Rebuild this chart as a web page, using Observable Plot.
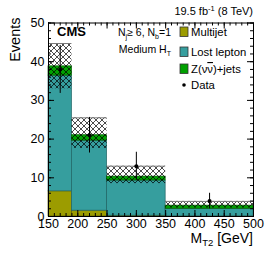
<!DOCTYPE html>
<html><head><meta charset="utf-8">
<script src="https://cdn.jsdelivr.net/npm/d3@7"></script>
<script src="https://cdn.jsdelivr.net/npm/@observablehq/plot@0.6"></script>
<style>
body{margin:0;background:#fff}
svg{font-family:"Liberation Sans",Arial,Helvetica,sans-serif;background:#fff}
</style>
</head><body><div id="chart"></div>
<script>
// ---- data ----
const binLo = [150, 190, 250, 350];
const binHi = [190, 250, 350, 500];
const multijet = [6.5, 1.5, 0.2, 0.05];
const lostLepton = [29.9, 18.1, 9.1, 1.95];
const zinv = [2.4, 1.4, 1.0, 0.8];
const bandLo = [33.0, 17.6, 8.5, 2.2];
const bandHi = [44.7, 25.5, 13.0, 3.9];
const dataVals = [38, 21, 13, 4];
const dataErr = [6.2, 4.6, 3.6, 2.0];
const seriesNames = ["Multijet", "Lost lepton", "Z(νν̄)+jets"];
const seriesColors = ["#9c9c00", "#369e9e", "#00a000"];
const seriesStroke = ["#5a5a00", "#1f6464", "#005a00"];
const yTicks = [0, 10, 20, 30, 40, 50];
const xTicks = [150, 200, 250, 300, 350, 400, 450, 500];
const yMinor = d3.range(0, 50.01, 2);
const xMinor = d3.range(150, 500.01, 10);

// ---- layout ----
const W = 266, H = 255;
const mL = 48, mR = 13, mT = 22.5, mB = 39;
const fw = W - mL - mR, fh = H - mT - mB;
const major = 6, minor = 3;

const stacked = [];
const comps = [multijet, lostLepton, zinv];
binLo.forEach((lo, i) => comps.forEach((c, k) => stacked.push({x1: lo, x2: binHi[i], y: c[i], s: k})));
const bins = binLo.map((lo, i) => ({x1: lo, x2: binHi[i], xc: (lo + binHi[i]) / 2,
  lo: bandLo[i], hi: bandHi[i], d: dataVals[i], e: dataErr[i]}));

const chart = Plot.plot({
  width: W, height: H,
  marginLeft: mL, marginRight: mR, marginTop: mT, marginBottom: mB,
  x: {domain: [150, 500]},
  y: {domain: [0, 50]},
  style: {fontFamily: '"Liberation Sans",Arial,sans-serif', fontSize: "12px", color: "#000", overflow: "visible"},
  marks: [
    Plot.rectY(stacked, {x1: "x1", x2: "x2", y: "y", fill: d => seriesColors[d.s], stroke: d => seriesStroke[d.s], strokeWidth: 0.7}),
    Plot.rect(bins, {x1: "x1", x2: "x2", y1: "lo", y2: "hi", fill: "url(#hatch)"}),
    Plot.ruleY(bins, {x1: "x1", x2: "x2", y: "hi", stroke: "#7a7a7a", strokeWidth: 1}),
    Plot.ruleX(bins, {x: "xc", y1: d => d.d - d.e, y2: d => d.d + d.e, stroke: "#000", strokeWidth: 1}),
    Plot.dot(bins, {x: "xc", y: "d", r: 2, fill: "#000", stroke: null}),
    // inward ticks: left / right
    Plot.tickY(yTicks, {y: d => d, insetRight: fw - major, stroke: "#000"}),
    Plot.tickY(yTicks, {y: d => d, insetLeft: fw - major, stroke: "#000"}),
    Plot.tickY(yMinor, {y: d => d, insetRight: fw - minor, stroke: "#000"}),
    Plot.tickY(yMinor, {y: d => d, insetLeft: fw - minor, stroke: "#000"}),
    // bottom / top
    Plot.tickX(xTicks, {x: d => d, insetTop: fh - major, stroke: "#000"}),
    Plot.tickX(xTicks, {x: d => d, insetBottom: fh - major, stroke: "#000"}),
    Plot.tickX(xMinor, {x: d => d, insetTop: fh - minor, stroke: "#000"}),
    Plot.tickX(xMinor, {x: d => d, insetBottom: fh - minor, stroke: "#000"}),
    Plot.axisY(yTicks, {anchor: "left", tickSize: 0, tickPadding: 4, fontSize: 12.5, label: null}),
    Plot.axisX(xTicks, {anchor: "bottom", tickSize: 0, tickPadding: 3, fontSize: 12.5, label: null}),
    Plot.frame({stroke: "#000", strokeWidth: 1})
  ]
});

const svg = d3.select(chart);
const defs = svg.insert("defs", ":first-child");
const pat = defs.append("pattern").attr("id", "hatch").attr("patternUnits", "userSpaceOnUse")
  .attr("width", 6).attr("height", 6);
pat.append("path").attr("d", "M0,0L6,6M6,0L0,6M-1,5L1,7M5,-1L7,1M-1,1L1,-1M5,7L7,5")
  .attr("stroke", "#000").attr("stroke-width", 0.7).attr("fill", "none");

const ann = svg.append("g").attr("fill", "#000").attr("text-anchor", "start");

// header
const hdr = ann.append("text").attr("x", W - mR).attr("y", 15).attr("text-anchor", "end").attr("font-size", 11);
hdr.append("tspan").text("19.5 fb");
hdr.append("tspan").attr("dy", -4).attr("font-size", 7.5).text("-1");
hdr.append("tspan").attr("dy", 4).text(" (8 TeV)");

// axis titles
ann.append("text").attr("transform", `translate(${20},${mT - 5}) rotate(-90)`)
  .attr("text-anchor", "end").attr("font-size", 14.5).text("Events");
const xt = ann.append("text").attr("x", W - mR).attr("y", 243).attr("text-anchor", "end").attr("font-size", 14);
xt.append("tspan").text("M");
xt.append("tspan").attr("dy", 3).attr("font-size", 9.5).text("T2");
xt.append("tspan").attr("dy", -3).text(" [GeV]");

// CMS label
ann.append("text").attr("x", mL + 9).attr("y", mT + 13).attr("font-size", 13).attr("font-weight", "bold").text("CMS");

// selection text
const s1 = ann.append("text").attr("x", 171).attr("y", 36).attr("text-anchor", "end").attr("font-size", 10.5);
s1.append("tspan").text("N");
s1.append("tspan").attr("dy", 2.5).attr("font-size", 7).text("j");
s1.append("tspan").attr("dy", -2.5).text("≥ 6, N");
s1.append("tspan").attr("dy", 2.5).attr("font-size", 7).text("b");
s1.append("tspan").attr("dy", -2.5).text("=1");
const s2 = ann.append("text").attr("x", 171).attr("y", 53).attr("text-anchor", "end").attr("font-size", 10.5);
s2.append("tspan").text("Medium H");
s2.append("tspan").attr("dy", 2.5).attr("font-size", 7).text("T");

// legend
const legY = [27, 47, 64];
seriesNames.forEach((n, k) => {
  ann.append("rect").attr("x", 180).attr("y", legY[k]).attr("width", 8).attr("height", 9.5)
    .attr("fill", seriesColors[k]).attr("stroke", "#333").attr("stroke-width", 0.8);
  const t = ann.append("text").attr("x", 191).attr("y", legY[k] + 9).attr("font-size", 11.3);
  if (k === 2) {
    t.append("tspan").text("Z(ν");
    t.append("tspan").attr("text-decoration", "overline").text("ν");
    t.append("tspan").text(")+jets");
  } else t.text(n);
});
ann.append("circle").attr("cx", 184).attr("cy", 85).attr("r", 1.8).attr("fill", "#000");
ann.append("text").attr("x", 191).attr("y", 89).attr("font-size", 11.3).text("Data");

document.getElementById("chart").appendChild(chart);
</script>
</body></html>
